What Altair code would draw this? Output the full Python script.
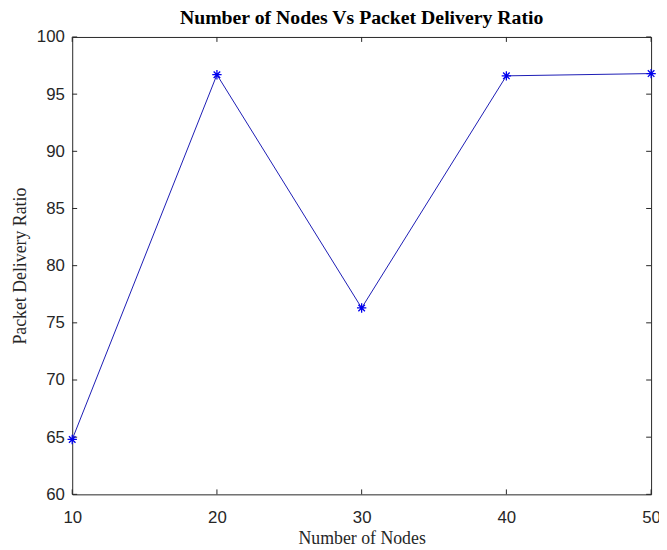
import altair as alt
import pandas as pd

# data
nodes = [10, 20, 30, 40, 50]
pdr = [64.8, 96.7, 76.3, 96.6, 96.8]
x_ticks = [10, 20, 30, 40, 50]
y_ticks = [60, 65, 70, 75, 80, 85, 90, 95, 100]

W, H = 586, 463
TICK = 5
AXIS_COL = "#262626"
BLUE = "#0000ee"
LINE_BLUE = "#1a1ab4"

df = pd.DataFrame({"nodes": nodes, "pdr": pdr})
xt = pd.DataFrame({"nodes": x_ticks})
yt = pd.DataFrame({"pdr": y_ticks})

xscale = alt.Scale(domain=[10, 50], nice=False, zero=False)
yscale = alt.Scale(domain=[60, 100], nice=False, zero=False)

x_axis = alt.Axis(
    values=x_ticks, format="d", grid=False, ticks=False, tickSize=0, domain=False,
    labelFont="Liberation Sans", labelFontSize=17, labelColor=AXIS_COL,
    labelPadding=15, labelFlush=False,
    title="Number of Nodes", titleFont="Liberation Serif", titleFontSize=18,
    titleFontWeight="normal", titleColor=AXIS_COL, titlePadding=5,
)
y_axis = alt.Axis(
    values=y_ticks, format="d", grid=False, ticks=False, tickSize=0, domain=False,
    labelFont="Liberation Sans", labelFontSize=17, labelColor=AXIS_COL,
    labelPadding=8, labelFlush=False,
    title="Packet Delivery Ratio", titleFont="Liberation Serif", titleFontSize=18,
    titleFontWeight="normal", titleColor=AXIS_COL, titlePadding=7,
)

line = alt.Chart(df).mark_line(color=LINE_BLUE, strokeWidth=1).encode(
    x=alt.X("nodes:Q", scale=xscale, axis=x_axis),
    y=alt.Y("pdr:Q", scale=yscale, axis=y_axis),
)

asterisk = "M-1,0L1,0M0,-1L0,1M-0.7,-0.7L0.7,0.7M-0.7,0.7L0.7,-0.7"
pts = alt.Chart(df).mark_point(
    shape=asterisk, filled=False, stroke=BLUE, strokeWidth=1.3, size=90, opacity=1
).encode(
    x=alt.X("nodes:Q", scale=xscale),
    y=alt.Y("pdr:Q", scale=yscale),
)

bottom_ticks = alt.Chart(xt).mark_rule(color=AXIS_COL, strokeWidth=1).encode(
    x=alt.X("nodes:Q", scale=xscale), y=alt.value(H), y2=alt.value(H - TICK)
)
top_ticks = alt.Chart(xt).mark_rule(color=AXIS_COL, strokeWidth=1).encode(
    x=alt.X("nodes:Q", scale=xscale), y=alt.value(0), y2=alt.value(TICK)
)
left_ticks = alt.Chart(yt).mark_rule(color=AXIS_COL, strokeWidth=1).encode(
    y=alt.Y("pdr:Q", scale=yscale), x=alt.value(0), x2=alt.value(TICK)
)
right_ticks = alt.Chart(yt).mark_rule(color=AXIS_COL, strokeWidth=1).encode(
    y=alt.Y("pdr:Q", scale=yscale), x=alt.value(W), x2=alt.value(W - TICK)
)

chart = alt.layer(
    bottom_ticks, top_ticks, left_ticks, right_ticks, line, pts
).properties(
    width=W, height=H,
    title=alt.TitleParams(
        "Number of Nodes Vs Packet Delivery Ratio",
        font="Liberation Serif", fontSize=20, fontWeight="bold",
        color="black", anchor="middle", offset=0,
    ),
    autosize=alt.AutoSizeParams(type="none"),
    padding={"left": 65, "top": 26, "right": 8, "bottom": 53},
).configure_view(
    stroke=AXIS_COL, strokeWidth=1
)

chart.save("out.html", embed_options={"renderer": "svg", "actions": False})
